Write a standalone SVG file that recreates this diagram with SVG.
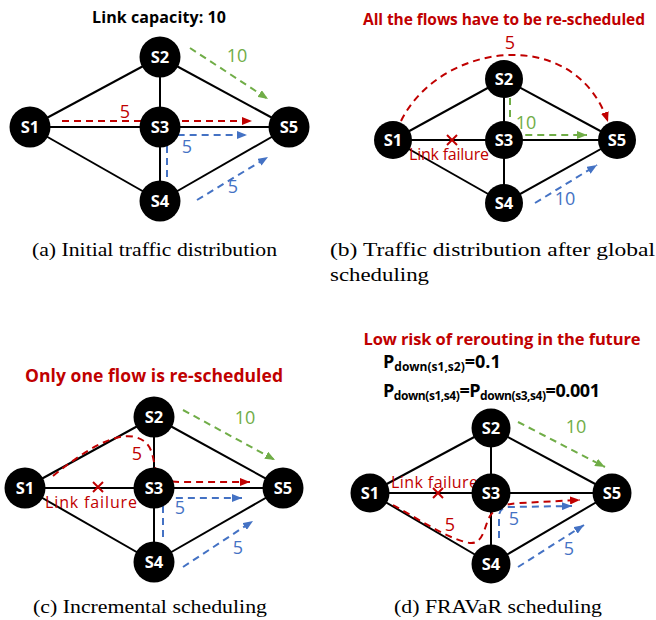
<svg xmlns="http://www.w3.org/2000/svg" width="656" height="620" viewBox="0 0 656 620">
<defs>
<style>
.edge{stroke:#000;stroke-width:2;fill:none}
.node circle{fill:#000}
.node text{fill:#fff;font-family:"Open Sans","Liberation Sans",sans-serif;font-weight:bold;font-size:16.5px;text-anchor:middle}
.fr{stroke:#c00000;stroke-width:2;fill:none;stroke-dasharray:7 5;marker-end:url(#ar)}
.fg{stroke:#70ad47;stroke-width:2;fill:none;stroke-dasharray:7 5;marker-end:url(#ag)}
.fb{stroke:#4472c4;stroke-width:2;fill:none;stroke-dasharray:7 5;marker-end:url(#ab)}
.lbl{font-family:"Open Sans","Liberation Sans",sans-serif;font-size:18px;text-anchor:middle}
.r{fill:#c00000}.g{fill:#70ad47}.b{fill:#4472c4}
.title{font-family:"Open Sans","Liberation Sans",sans-serif;font-weight:bold;text-anchor:middle}
.fail{font-family:"Open Sans","Liberation Sans",sans-serif;font-size:16px;fill:#c00000}
.x{stroke:#c00000;stroke-width:2}
.cap{font-family:"Liberation Serif","Times New Roman",serif;font-size:19px;fill:#000}
.p{font-family:"Open Sans","Liberation Sans",sans-serif;font-weight:bold;fill:#000}
</style>
<marker id="ar" markerUnits="userSpaceOnUse" markerWidth="10" markerHeight="8" refX="10" refY="4" orient="auto"><path d="M0,0 L10,4 L0,8 z" fill="#c00000"/></marker>
<marker id="ag" markerUnits="userSpaceOnUse" markerWidth="10" markerHeight="8" refX="10" refY="4" orient="auto"><path d="M0,0 L10,4 L0,8 z" fill="#70ad47"/></marker>
<marker id="ab" markerUnits="userSpaceOnUse" markerWidth="10" markerHeight="8" refX="10" refY="4" orient="auto"><path d="M0,0 L10,4 L0,8 z" fill="#4472c4"/></marker>
</defs>
<rect width="656" height="620" fill="#fff"/>

<!-- Panel (a) -->
<text class="title" x="159" y="23" font-size="16" fill="#000" textLength="134">Link capacity: 10</text>
<g id="a-connectors">
<line class="edge" x1="30" y1="127" x2="160" y2="57"/>
<line class="edge" x1="30" y1="127" x2="160" y2="127"/>
<line class="edge" x1="30" y1="127" x2="160" y2="201"/>
<line class="edge" x1="160" y1="57" x2="160" y2="201"/>
<line class="edge" x1="160" y1="57" x2="289" y2="127"/>
<line class="edge" x1="160" y1="127" x2="289" y2="127"/>
<line class="edge" x1="160" y1="201" x2="289" y2="127"/>
<path class="fr" d="M62,121 L252,121"/>
<path class="fg" d="M190,48 L268,99"/>
<path class="fb" d="M167,177 L167,147 Q167,135 179,135 L247,135"/>
<path class="fb" d="M197,200 L268,157"/>
</g>
<text class="lbl r" x="125" y="118" font-size="15">5</text>
<text class="lbl g" x="237" y="62">10</text>
<text class="lbl b" x="187" y="153">5</text>
<text class="lbl b" x="233" y="193">5</text>
<g id="a-s1" class="node"><circle cx="30" cy="127" r="20.5"/><text x="30" y="133">S1</text></g>
<g id="a-s2" class="node"><circle cx="160" cy="57" r="20.5"/><text x="160" y="63">S2</text></g>
<g id="a-s3" class="node"><circle cx="160" cy="127" r="20.5"/><text x="160" y="133">S3</text></g>
<g id="a-s4" class="node"><circle cx="160" cy="201" r="20.5"/><text x="160" y="207">S4</text></g>
<g id="a-s5" class="node"><circle cx="289" cy="127" r="20.5"/><text x="289" y="133">S5</text></g>
<text class="cap" x="32" y="256" textLength="245" lengthAdjust="spacingAndGlyphs">(a) Initial traffic distribution</text>

<!-- Panel (b) -->
<text class="title r" x="504" y="25" font-size="15.5" textLength="282">All the flows have to be re-scheduled</text>
<g id="b-connectors">
<line class="edge" x1="393" y1="140" x2="504" y2="79"/>
<line class="edge" x1="393" y1="140" x2="504" y2="140"/>
<line class="edge" x1="393" y1="140" x2="504" y2="203"/>
<line class="edge" x1="504" y1="79" x2="504" y2="203"/>
<line class="edge" x1="504" y1="79" x2="617" y2="140"/>
<line class="edge" x1="504" y1="140" x2="617" y2="140"/>
<line class="edge" x1="504" y1="203" x2="617" y2="140"/>
<path class="fr" d="M401,121 C440,42 575,24 608,122"/>
<path class="fg" d="M510,98 L510,124 Q510,135 521,135 L587,135"/>
<path class="fb" d="M535,203 L597,165"/>
</g>
<text class="lbl r" x="510" y="49" font-size="15">5</text>
<text class="lbl g" x="526" y="129" font-size="16.5">10</text>
<text class="lbl b" x="565" y="205" font-size="16.5">10</text>
<g class="x"><line x1="447" y1="135" x2="457" y2="145"/><line x1="457" y1="135" x2="447" y2="145"/></g>
<text class="fail" x="409" y="160" font-size="15" textLength="80">Link failure</text>
<g id="b-s1" class="node"><circle cx="393" cy="140" r="19"/><text x="393" y="146">S1</text></g>
<g id="b-s2" class="node"><circle cx="504" cy="79" r="19"/><text x="504" y="85">S2</text></g>
<g id="b-s3" class="node"><circle cx="504" cy="140" r="19"/><text x="504" y="146">S3</text></g>
<g id="b-s4" class="node"><circle cx="504" cy="203" r="19"/><text x="504" y="209">S4</text></g>
<g id="b-s5" class="node"><circle cx="617" cy="140" r="19"/><text x="617" y="146">S5</text></g>
<text class="cap" x="330" y="256" textLength="325" lengthAdjust="spacingAndGlyphs">(b) Traffic distribution after global</text>
<text class="cap" x="330" y="281" textLength="99" lengthAdjust="spacingAndGlyphs">scheduling</text>

<!-- Panel (c) -->
<text class="title r" x="154" y="382" font-size="17.5" textLength="258">Only one flow is re-scheduled</text>
<g id="c-connectors">
<line class="edge" x1="25" y1="488" x2="154" y2="417"/>
<line class="edge" x1="25" y1="488" x2="154" y2="488"/>
<line class="edge" x1="25" y1="488" x2="154" y2="562"/>
<line class="edge" x1="154" y1="417" x2="154" y2="562"/>
<line class="edge" x1="154" y1="417" x2="283" y2="488"/>
<line class="edge" x1="154" y1="488" x2="283" y2="488"/>
<line class="edge" x1="154" y1="562" x2="283" y2="488"/>
<path class="fr" d="M53,476 C85,450 115,432 135,437 C150,441 152,452 154,462 C156,476 162,482 180,482 L250,482"/>
<path class="fg" d="M183,410 L275,460"/>
<path class="fb" d="M163,537 L163,508 Q163,498 173,498 L242,498"/>
<path class="fb" d="M183,567 L253,521"/>
</g>
<text class="lbl r" x="137" y="460">5</text>
<text class="lbl g" x="245" y="424" font-size="18.5">10</text>
<text class="lbl b" x="180" y="514">5</text>
<text class="lbl b" x="238" y="554">5</text>
<g class="x"><line x1="93" y1="482" x2="103" y2="492"/><line x1="103" y1="482" x2="93" y2="492"/></g>
<text class="fail" x="45" y="508" font-size="17" textLength="92">Link failure</text>
<g id="c-s1" class="node"><circle cx="25" cy="488" r="20.5"/><text x="25" y="494">S1</text></g>
<g id="c-s2" class="node"><circle cx="154" cy="417" r="20.5"/><text x="154" y="423">S2</text></g>
<g id="c-s3" class="node"><circle cx="154" cy="488" r="20.5"/><text x="154" y="494">S3</text></g>
<g id="c-s4" class="node"><circle cx="154" cy="562" r="20.5"/><text x="154" y="568">S4</text></g>
<g id="c-s5" class="node"><circle cx="283" cy="488" r="20.5"/><text x="283" y="494">S5</text></g>
<text class="cap" x="33" y="613" textLength="234" lengthAdjust="spacingAndGlyphs">(c) Incremental scheduling</text>

<!-- Panel (d) -->
<text class="title r" x="502" y="345" font-size="16.5" textLength="277">Low risk of rerouting in the future</text>
<text class="p" x="383" y="368" font-size="18">P<tspan font-size="12" dy="3">down(s1,s2)</tspan><tspan dy="-3">=0.1</tspan></text>
<text class="p" x="383" y="397" font-size="18" textLength="217">P<tspan font-size="12" dy="3">down(s1,s4)</tspan><tspan dy="-3">=P</tspan><tspan font-size="12" dy="3">down(s3,s4)</tspan><tspan dy="-3">=0.001</tspan></text>
<g id="d-connectors">
<line class="edge" x1="370" y1="493" x2="491" y2="428"/>
<line class="edge" x1="370" y1="493" x2="491" y2="493"/>
<line class="edge" x1="370" y1="493" x2="491" y2="564"/>
<line class="edge" x1="491" y1="428" x2="491" y2="564"/>
<line class="edge" x1="491" y1="428" x2="612" y2="493"/>
<line class="edge" x1="491" y1="493" x2="612" y2="493"/>
<line class="edge" x1="491" y1="564" x2="612" y2="493"/>
<path class="fr" d="M393,505 C420,520 450,540 470,543 C482,544 484,530 488,520 C493,508 503,504 520,503 L580,500"/>
<path class="fg" d="M518,422 L605,467"/>
<path class="fb" d="M499,538 L499,517 Q499,507 509,507 L572,506"/>
<path class="fb" d="M518,567 L584,525"/>
</g>
<text class="lbl r" x="450" y="531">5</text>
<text class="lbl g" x="576" y="433">10</text>
<text class="lbl b" x="514" y="525">5</text>
<text class="lbl b" x="569" y="555">5</text>
<g class="x"><line x1="433" y1="488" x2="443" y2="498"/><line x1="443" y1="488" x2="433" y2="498"/></g>
<text class="fail" x="391" y="488" font-size="16.5" textLength="87">Link failure</text>
<g id="d-s1" class="node"><circle cx="370" cy="493" r="19.5"/><text x="370" y="499">S1</text></g>
<g id="d-s2" class="node"><circle cx="491" cy="428" r="19.5"/><text x="491" y="434">S2</text></g>
<g id="d-s3" class="node"><circle cx="491" cy="493" r="19.5"/><text x="491" y="499">S3</text></g>
<g id="d-s4" class="node"><circle cx="491" cy="564" r="19.5"/><text x="491" y="570">S4</text></g>
<g id="d-s5" class="node"><circle cx="612" cy="493" r="19.5"/><text x="612" y="499">S5</text></g>
<text class="cap" x="394" y="613" textLength="208" lengthAdjust="spacingAndGlyphs">(d) FRAVaR scheduling</text>
</svg>
